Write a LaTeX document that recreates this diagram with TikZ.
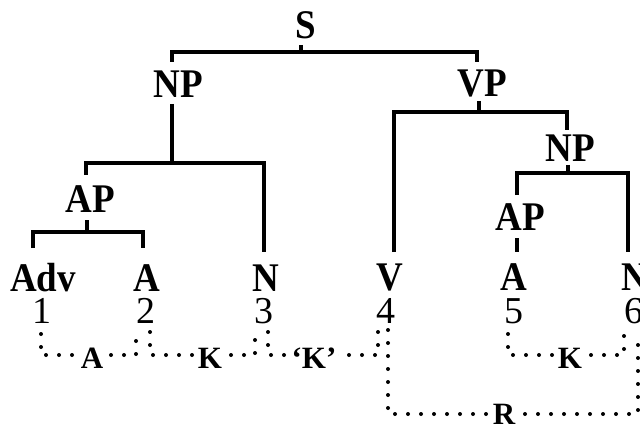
\documentclass[tikz,border=0pt]{standalone}
\usepackage{fontspec}
\setmainfont{Liberation Serif}
\newcommand\tallbox[1]{\scalebox{1}[1.1]{#1}}
\begin{document}
\begin{tikzpicture}[x=1pt,y=-1pt,
  cat/.style={inner sep=0pt,anchor=base,font=\bfseries\fontsize{37}{37}\selectfont},
  num/.style={inner sep=0pt,anchor=base,font=\fontsize{38}{38}\selectfont},
  rel/.style={inner sep=2pt,fill=white,font=\bfseries\fontsize{31}{31}\selectfont},
  tree/.style={line width=3.2pt},
  dots/.style={line width=4pt,line cap=round,dash pattern=on 0pt off 13pt}]
\useasboundingbox (0,0) rectangle (640,425);
\clip (0,0) rectangle (640,425);
% tree labels
\node[cat] (S) at (306,39) {\tallbox{S}};
\node[cat] (NPa) at (178,98) {\tallbox{NP}};
\node[cat] (VP) at (482,97) {\tallbox{VP}};
\node[cat] (NPb) at (570,162) {\tallbox{NP}};
\node[cat] (APa) at (90,212) {\tallbox{AP}};
\node[cat] (APb) at (520,230) {\tallbox{AP}};
\node[cat] (Adv) at (43,291) {\tallbox{Adv}};
\node[cat] (Aa) at (147,291) {\tallbox{A}};
\node[cat] (Na) at (266,291) {\tallbox{N}};
\node[cat] (V) at (390,290) {\tallbox{V}};
\node[cat] (Ab) at (514,290) {\tallbox{A}};
\node[cat] (Nb) at (635,290) {\tallbox{N}};
\node[num] (n1) at (42,323) {1};
\node[num] (n2) at (146,323) {2};
\node[num] (n3) at (264,323) {3};
\node[num] (n4) at (386,323) {4};
\node[num] (n5) at (514,323) {5};
\node[num] (n6) at (634,323) {6};
% tree connectors
\draw[tree] (301,45) -- (301,52);
\draw[tree] (172,62) -- (172,52) -- (477,52) -- (477,62);
\draw[tree] (172,104) -- (172,163);
\draw[tree] (86,175) -- (86,163) -- (264,163) -- (264,252);
\draw[tree] (87,220) -- (87,232);
\draw[tree] (33,248) -- (33,232) -- (143,232) -- (143,248);
\draw[tree] (479,101) -- (479,112);
\draw[tree] (394,252) -- (394,112) -- (567,112) -- (567,130);
\draw[tree] (568,165) -- (568,173);
\draw[tree] (517,195) -- (517,173) -- (628,173) -- (628,252);
\draw[tree] (517,238) -- (517,252);
% dotted relations
\draw[dots] (41,334) -- (41,355) -- (136,355) -- (136,332);
\draw[dots] (150,332) -- (150,355) -- (255,355) -- (255,332);
\draw[dots] (268,332) -- (268,355) -- (378,355) -- (378,330);
\draw[dots] (388,330) -- (388,414) -- (638,414) -- (638,335);
\draw[dots] (508,334) -- (508,355) -- (624,355) -- (624,333);
\node[rel] (rA) at (92,358) {A};
\node[rel] (rK1) at (210,358) {K};
\node[rel] (rK2) at (314,358) {‘K’};
\node[rel] (rR) at (504,414) {R};
\node[rel] (rK3) at (570,358) {K};
\end{tikzpicture}
\end{document}
